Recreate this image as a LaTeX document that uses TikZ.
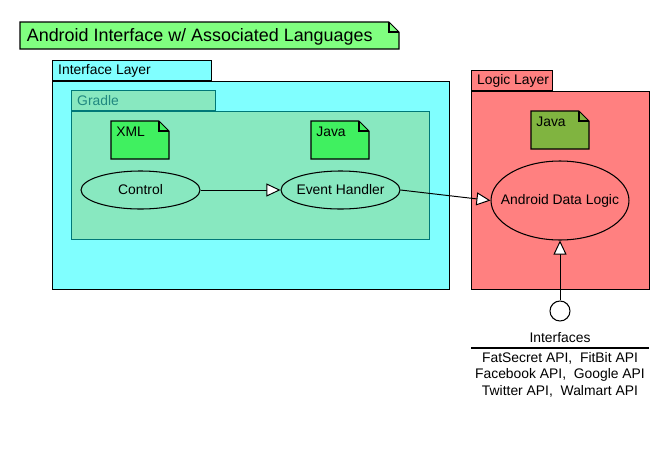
\documentclass[tikz,border=0pt]{standalone}
\usepackage{fontspec}
\setmainfont{Liberation Sans}
\usetikzlibrary{arrows.meta,positioning,shapes.geometric}

\definecolor{titlegreen}{RGB}{128,255,128}
\definecolor{ifcyan}{RGB}{128,255,255}
\definecolor{gradlefill}{RGB}{136,232,192}
\definecolor{gradleline}{RGB}{0,120,120}
\definecolor{gradletext}{RGB}{32,136,128}
\definecolor{notegreen}{RGB}{64,240,96}
\definecolor{logicred}{RGB}{255,128,128}
\definecolor{javaolive}{RGB}{128,180,64}

\tikzset{
  pkgbody/.style={draw, line width=0.6pt, inner sep=0pt, anchor=north west},
  pkgtab/.style={draw, line width=0.6pt, inner sep=0pt, anchor=south west, minimum height=0.4cm},
  usecase/.style={draw, line width=0.6pt, ellipse, inner ysep=0pt, inner xsep=-8pt},
  realize/.style={line width=0.55pt, -{Triangle[length=8pt, width=7.4pt, fill=white]}},
}

\begin{document}
\begin{tikzpicture}[x=0.02cm, y=-0.02cm, every node/.style={font=\fontsize{7.9}{9.35}\selectfont}]
            \useasboundingbox (0,0) rectangle (670,460);

            % Drawing note Title
            \draw [line width=0.6pt, fill=titlegreen] (20,22) -- (20,49) -- (399,49) -- (399,32) -- (389,22) -- cycle;%
            \draw [line width=0.6pt] (389,22) |- (399,32);%
            \node [anchor=west, font=\fontsize{10.2}{12}\selectfont, inner sep=0pt] (title) at (26.5,36.5) {Android Interface w/ Associated Languages};%

            % Drawing package Interface Layer
            \node [pkgbody, fill=ifcyan, minimum width=7.94cm, minimum height=4.16cm] (ifbody) at (52,81) {};%
            \node [pkgtab, fill=ifcyan, minimum width=3.18cm] (iftab) at (ifbody.north west) {};%
            \node [right=0cm of iftab.west] (iflabel) {Interface Layer};%

            % Drawing package Gradle
            \node [pkgbody, draw=gradleline, fill=gradlefill, minimum width=7.16cm, minimum height=2.56cm] (grbody) at (71,111) {};%
            \node [pkgtab, draw=gradleline, fill=gradlefill, minimum width=2.88cm] (grtab) at (grbody.north west) {};%
            \node [right=0cm of grtab.west, text=gradletext] (grlabel) {Gradle};%

            % Drawing package Logic Layer
            \node [pkgbody, fill=logicred, minimum width=3.56cm, minimum height=3.96cm] (lgbody) at (471,91) {};%
            \node [pkgtab, fill=logicred, minimum width=1.62cm] (lgtab) at (lgbody.north west) {};%
            \node [right=0cm of lgtab.west] (lglabel) {Logic Layer};%

            % Drawing note XML
            \draw [line width=0.6pt, fill=notegreen] (111,121) -- (111,159) -- (169,159) -- (169,131) -- (159,121) -- cycle;%
            \draw [line width=0.6pt] (159,121) |- (169,131);%
            \node [anchor=north west, inner sep=0pt] (xmlnote) at (116,127) {XML};%

            % Drawing note Java
            \draw [line width=0.6pt, fill=notegreen] (311,121) -- (311,159) -- (369,159) -- (369,131) -- (359,121) -- cycle;%
            \draw [line width=0.6pt] (359,121) |- (369,131);%
            \node [anchor=north west, inner sep=0pt] (javanote) at (316,127) {Java};%

            % Drawing note Java of Logic Layer
            \draw [line width=0.6pt, fill=javaolive] (531,111) -- (531,149) -- (589,149) -- (589,121) -- (579,111) -- cycle;%
            \draw [line width=0.6pt] (579,111) |- (589,121);%
            \node [anchor=north west, inner sep=0pt] (lgjavanote) at (536,117) {Java};%

            % Marking use cases
            \node [usecase, minimum width=2.38cm, minimum height=0.76cm] (control) at (140.5,190) {Control};%
            \node [usecase, minimum width=2.38cm, minimum height=0.76cm] (handler) at (340.5,190) {Event Handler};%
            \node [usecase, minimum width=2.76cm, minimum height=1.58cm] (datalogic) at (560,200.5) {Android Data Logic};%

            % Marking interface by circle
            \node [draw, line width=0.6pt, circle, fill=white, minimum size=0.4cm, inner sep=0pt] (ifcircle) at (560,311) {};%
            \node (ifname) at (560,338) {Interfaces};%
            \coordinate (sepleft) at (471,348);%
            \coordinate (sepright) at (649,348);%
            \draw [line width=0.6pt] (sepleft) -- (sepright);%
            \node [align=center] (apis) at (560,374.5) {FatSecret API,\ \ FitBit API\\Facebook API,\ \ Google API\\Twitter API,\ \ Walmart API};%

            % Drawing connectors
            \draw [realize] (control.east) -- (handler.west);%
            \draw [realize] (handler.east) -- (datalogic.west);%
            \draw [realize] (ifcircle) -- (datalogic);%
\end{tikzpicture}
\end{document}
